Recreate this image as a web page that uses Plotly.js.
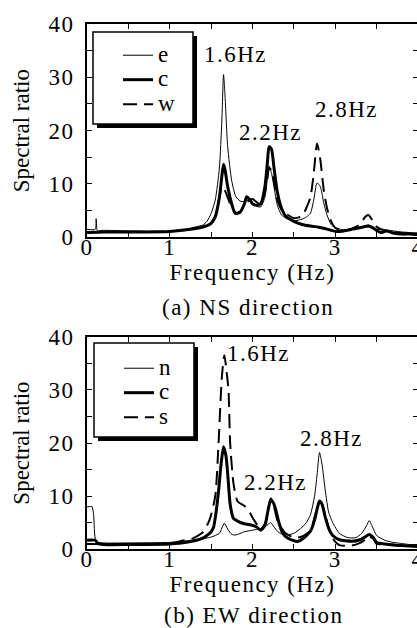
<!DOCTYPE html>
<html>
<head>
<meta charset="utf-8">
<script src="https://cdn.plot.ly/plotly-3.0.1.min.js"></script>
<style>
  html, body { margin: 0; padding: 0; overflow: hidden; background: #fff; }
  #chart { width: 420px; height: 628px; }
  svg text { letter-spacing: 1.5px; }
  .g-ytitle text, .g-y2title text { letter-spacing: 0px; }
</style>
</head>
<body>
<div id="chart"></div>
<script>
// ---------- (a) NS direction ----------
const nsFreqE = [0, 0.1, 0.11, 0.12, 0.13, 0.2, 0.5, 0.8, 1.0, 1.2, 1.3, 1.4, 1.45, 1.5, 1.55, 1.6, 1.63, 1.65, 1.67, 1.7, 1.75, 1.8, 1.85, 1.9, 1.93, 1.97, 2.0, 2.05, 2.1, 2.15, 2.18, 2.2, 2.23, 2.27, 2.3, 2.35, 2.4, 2.5, 2.6, 2.65, 2.7, 2.74, 2.78, 2.82, 2.86, 2.9, 2.95, 3.0, 3.1, 3.2, 3.3, 3.36, 3.4, 3.45, 3.5, 3.6, 3.7, 3.8, 3.9, 4.0];
const nsE = [1.5, 1.5, 3.5, 1.5, 1.2, 1.3, 1.2, 1.1, 1.1, 1.5, 1.9, 2.3, 3.0, 4.5, 7.0, 13, 22, 30.5, 26, 17, 10.5, 7.6, 6.8, 6.7, 7.0, 6.8, 6.5, 5.8, 5.7, 7.5, 11, 13.4, 12, 8.5, 6.0, 4.2, 3.6, 3.1, 3.4, 3.8, 4.5, 7.0, 10.2, 9.5, 6.5, 4.2, 2.4, 1.8, 1.4, 1.6, 1.9, 2.2, 2.3, 2.0, 1.5, 1.4, 1.2, 1.0, 0.9, 0.8];

const nsFreqC = [0, 0.2, 0.5, 1.0, 1.2, 1.4, 1.5, 1.55, 1.6, 1.63, 1.65, 1.67, 1.7, 1.75, 1.79, 1.85, 1.9, 1.93, 1.97, 2.0, 2.05, 2.1, 2.15, 2.18, 2.2, 2.23, 2.26, 2.3, 2.35, 2.4, 2.5, 2.6, 2.7, 2.8, 2.86, 2.95, 3.02, 3.1, 3.2, 3.3, 3.36, 3.4, 3.45, 3.5, 3.55, 3.62, 3.7, 3.8, 3.9, 4.0];
const nsC = [0.9, 1.0, 1.0, 1.1, 1.4, 1.9, 2.6, 3.8, 7.5, 11.5, 13.7, 12.5, 9.5, 6.2, 4.5, 4.7, 6.2, 7.6, 7.0, 6.3, 6.0, 6.3, 9.5, 14, 17, 16.5, 13, 8.5, 5.5, 4.0, 3.0, 2.4, 2.1, 1.9, 1.7, 1.3, 1.1, 1.2, 1.5, 1.8, 2.0, 2.1, 1.8, 1.3, 0.9, 1.2, 0.8, 0.6, 0.6, 0.5];

const nsFreqW = [0, 0.5, 1.0, 1.2, 1.4, 1.5, 1.55, 1.6, 1.63, 1.66, 1.7, 1.75, 1.8, 1.85, 1.9, 1.95, 2.0, 2.05, 2.1, 2.15, 2.18, 2.2, 2.23, 2.27, 2.3, 2.35, 2.4, 2.5, 2.6, 2.65, 2.7, 2.74, 2.78, 2.82, 2.86, 2.9, 2.95, 3.0, 3.1, 3.2, 3.3, 3.36, 3.4, 3.45, 3.5, 3.6, 3.7, 3.8, 4.0];
const nsW = [1.0, 1.0, 1.1, 1.4, 2.0, 2.8, 4.0, 7.5, 9.5, 9.0, 7.5, 5.5, 4.6, 4.8, 5.8, 6.8, 7.2, 6.6, 6.2, 8.5, 11, 13, 12.5, 9.5, 7.0, 5.2, 4.5, 3.6, 4.0, 5.5, 7.5, 12, 17.6, 14.5, 9, 5.5, 3.0, 1.8, 1.2, 1.6, 2.4, 3.8, 4.2, 3.2, 2.0, 1.3, 1.0, 0.8, 0.7];

// ---------- (b) EW direction ----------
const ewFreqN = [0, 0.06, 0.08, 0.11, 0.2, 0.5, 1.0, 1.2, 1.4, 1.5, 1.6, 1.63, 1.66, 1.7, 1.75, 1.8, 1.9, 2.0, 2.1, 2.15, 2.19, 2.22, 2.26, 2.3, 2.35, 2.4, 2.5, 2.58, 2.65, 2.7, 2.75, 2.78, 2.81, 2.84, 2.88, 2.92, 2.97, 3.05, 3.15, 3.25, 3.32, 3.38, 3.41, 3.45, 3.5, 3.6, 3.7, 3.8, 3.9, 4.0];
const ewN = [8.0, 8.0, 6.5, 1.5, 1.2, 1.2, 1.3, 1.6, 2.0, 2.3, 3.0, 4.0, 4.9, 3.8, 2.8, 2.7, 3.3, 3.6, 3.9, 4.2, 4.7, 5.0, 4.2, 3.4, 2.9, 2.7, 3.0, 3.9, 5.0, 6.5, 10, 14, 18.2, 16, 11, 7, 5, 3, 2.2, 2.2, 3.0, 4.5, 5.4, 4.2, 2.6, 1.7, 1.3, 1.1, 0.9, 0.8];

const ewFreqC = [0, 0.1, 0.13, 0.2, 0.5, 1.0, 1.2, 1.4, 1.5, 1.53, 1.56, 1.59, 1.62, 1.65, 1.68, 1.7, 1.73, 1.77, 1.83, 1.9, 2.0, 2.05, 2.1, 2.15, 2.19, 2.22, 2.25, 2.28, 2.32, 2.36, 2.4, 2.5, 2.55, 2.6, 2.7, 2.75, 2.78, 2.81, 2.84, 2.88, 2.92, 2.97, 3.05, 3.2, 3.3, 3.36, 3.41, 3.46, 3.5, 3.6, 3.7, 3.8, 3.9, 4.0];
const ewC = [1.7, 1.7, 1.1, 0.9, 0.9, 1.0, 1.3, 2.1, 3.3, 4.2, 7.0, 11, 16, 19.3, 17.5, 14.3, 8.5, 5.8, 5.2, 4.8, 4.5, 4.2, 3.6, 4.5, 7.5, 9.3, 8.8, 7.5, 5.0, 3.2, 2.4, 1.6, 1.5, 1.9, 3.4, 5.5, 7.5, 9.1, 8.5, 6.0, 4.0, 2.6, 1.8, 1.5, 1.8, 2.3, 2.8, 2.2, 1.3, 1.0, 0.8, 0.7, 0.6, 0.5];

const ewFreqS = [0, 0.5, 1.0, 1.15, 1.27, 1.4, 1.48, 1.55, 1.59, 1.63, 1.66, 1.69, 1.71, 1.73, 1.77, 1.82, 1.9, 1.95, 2.0, 2.06, 2.1, 2.15, 2.19, 2.22, 2.26, 2.3, 2.35, 2.4, 2.5, 2.6, 2.7, 2.75, 2.8, 2.83, 2.87, 2.92, 2.97, 3.05, 3.2, 3.3, 3.36, 3.41, 3.46, 3.5, 3.6, 3.7, 3.8, 4.0];
const ewS = [1.0, 1.0, 1.1, 1.6, 2.0, 3.2, 5.5, 10, 20, 32.5, 36.5, 33, 30, 20, 12.4, 9.0, 8.2, 7.4, 6.0, 4.5, 3.8, 4.8, 7.5, 9.6, 8.0, 5.5, 4.0, 3.0, 2.2, 2.4, 3.5, 6.0, 8.5, 8.8, 7.0, 4.0, 2.0, 0.8, 0.7, 1.2, 1.8, 2.4, 2.0, 1.0, 1.0, 0.9, 0.7, 0.8];

// ---------- ticks ----------
const xTickVals = [0, 0.5, 1, 1.5, 2, 2.5, 3, 3.5, 4];
const xTickText = ['0', '', '1', '', '2', '', '3', '', '4'];
const yTickVals = [0, 5, 10, 15, 20, 25, 30, 35, 40];
const yTickText = ['0', '', '10', '', '20', '', '30', '', '40'];

const peakLabels = ['1.6Hz', '2.2Hz', '2.8Hz'];

const FONT = "'Liberation Serif', 'Times New Roman', Times, serif";

function legendName(s) { return '<span style="font-size:23px">' + s + '</span>'; }

function mk(x, y, name, style, xa, ya, leg) {
  return { x: x, y: y, name: legendName(name), mode: 'lines', type: 'scatter',
    xaxis: xa, yaxis: ya, legend: leg, line: Object.assign({ color: 'black', shape: 'spline', smoothing: 0.6 }, style),
    hoverinfo: 'skip' };
}
const thin = { width: 1 };
const thick = { width: 3 };
const dashed = { width: 2, dash: '14px,7px' };

const data = [
  mk(nsFreqE, nsE, 'e', thin, 'x', 'y', 'legend'),
  mk(nsFreqC, nsC, 'c', thick, 'x', 'y', 'legend'),
  mk(nsFreqW, nsW, 'w', dashed, 'x', 'y', 'legend'),
  mk(ewFreqN, ewN, 'n', thin, 'x2', 'y2', 'legend2'),
  mk(ewFreqC, ewC, 'c', thick, 'x2', 'y2', 'legend2'),
  mk(ewFreqS, ewS, 's', dashed, 'x2', 'y2', 'legend2')
];

function xax(anchor) {
  return { anchor: anchor, range: [0, 4], tickvals: xTickVals, ticktext: xTickText,
    ticks: 'inside', ticklen: 5, tickwidth: 1, tickcolor: 'black',
    showline: true, linewidth: 2, linecolor: 'black', mirror: 'allticks',
    showgrid: false, zeroline: false, ticklabelstandoff: -12, ticklabeloverflow: 'allow',
    tickfont: { family: FONT, size: 23, color: 'black' },
    title: { text: 'Frequency (Hz)', font: { family: FONT, size: 23, color: 'black' }, standoff: 2 } };
}
function yax(anchor, domain) {
  return { anchor: anchor, domain: domain, range: [0, 40], tickvals: yTickVals, ticktext: yTickText,
    ticks: 'inside', ticklen: 5, tickwidth: 1, tickcolor: 'black',
    showline: true, linewidth: 2, linecolor: 'black', mirror: 'allticks',
    showgrid: false, zeroline: false, ticklabelstandoff: 6,
    tickfont: { family: FONT, size: 23, color: 'black' },
    title: { text: 'Spectral ratio', font: { family: FONT, size: 23, color: 'black' }, standoff: 12 } };
}

// figure is drawn slightly wider than the 417px window; the overflow is cropped like the reference
const W = 420, H = 628, L = 87, R = 2;
const PW = W - L - R;
function px2x(px) { return (px - L) / PW; }
function py2y(py) { return 1 - py / H; }

const legendBase = { xanchor: 'left', yanchor: 'top', bgcolor: 'rgba(0,0,0,0)', borderwidth: 0,
  font: { family: FONT, size: 16.5, color: 'black' }, tracegroupgap: 0 };

function note(xref, yref, x, y, text) {
  return { xref: xref, yref: yref, x: x, y: y, text: text, showarrow: false, xanchor: 'center', yanchor: 'middle' };
}

const layout = {
  width: W, height: H,
  margin: { l: L, r: R, t: 0, b: 0, autoexpand: false },
  paper_bgcolor: 'white', plot_bgcolor: 'white',
  font: { family: FONT, size: 23, color: 'black' },
  xaxis: xax('y'),
  yaxis: yax('x', [py2y(237.3), py2y(24)]),
  xaxis2: xax('y2'),
  yaxis2: yax('x2', [py2y(549.3), py2y(336.7)]),
  legend: Object.assign({ x: px2x(118), y: py2y(38) }, legendBase),
  legend2: Object.assign({ x: px2x(119), y: py2y(351) }, legendBase),
  shapes: [
    { type: 'rect', xref: 'paper', yref: 'paper', x0: px2x(97), x1: px2x(197), y0: py2y(128), y1: py2y(36), fillcolor: 'black', line: { width: 0 }, layer: 'above' },
    { type: 'rect', xref: 'paper', yref: 'paper', x0: px2x(93), x1: px2x(193), y0: py2y(124), y1: py2y(32), fillcolor: 'white', line: { width: 1.5, color: 'black' }, layer: 'above' },
    { type: 'rect', xref: 'paper', yref: 'paper', x0: px2x(98), x1: px2x(198), y0: py2y(441), y1: py2y(347), fillcolor: 'black', line: { width: 0 }, layer: 'above' },
    { type: 'rect', xref: 'paper', yref: 'paper', x0: px2x(94), x1: px2x(194), y0: py2y(437), y1: py2y(343), fillcolor: 'white', line: { width: 1.5, color: 'black' }, layer: 'above' }
  ],
  annotations: [
    note('x', 'y', 1.80, 34.2, peakLabels[0]),
    note('x', 'y', 2.22, 19.7, peakLabels[1]),
    note('x', 'y', 3.14, 23.9, peakLabels[2]),
    note('x2', 'y2', 2.07, 36.9, peakLabels[0]),
    note('x2', 'y2', 2.28, 12.65, peakLabels[1]),
    note('x2', 'y2', 2.96, 20.9, peakLabels[2]),
    note('paper', 'paper', px2x(248), py2y(307), '(a) NS direction'),
    note('paper', 'paper', px2x(253), py2y(615), '(b) EW direction')
  ]
};

Plotly.newPlot('chart', data, layout, { displayModeBar: false, staticPlot: true });
</script>
</body>
</html>
